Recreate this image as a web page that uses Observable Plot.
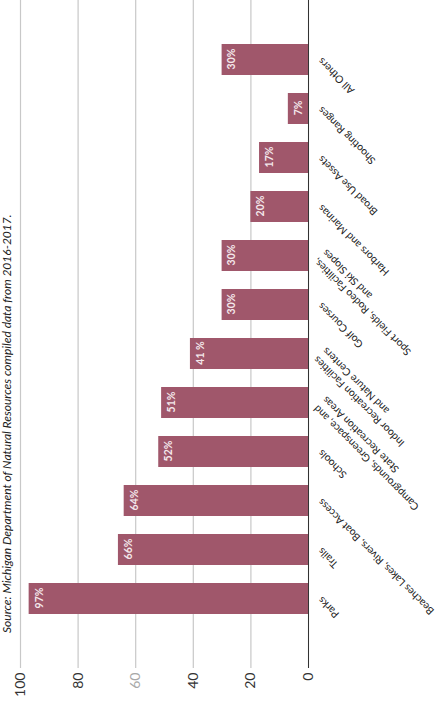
<!DOCTYPE html>
<html>
<head>
<meta charset="utf-8">
<script src="https://cdn.jsdelivr.net/npm/d3@7"></script>
<script src="https://cdn.jsdelivr.net/npm/@observablehq/plot@0.6"></script>
<style>
  html, body { margin: 0; padding: 0; background: #fff; overflow: hidden; width: 438px; height: 701px; }
  #rot { position: absolute; left: 0; top: 701px; width: 701px; height: 438px;
         transform-origin: 0 0; transform: rotate(-90deg); background: #fff; }
  #src { height: 14px; line-height: 13px; font-family: Lato, sans-serif; font-style: italic;
         font-size: 12px; color: #222; padding-left: 68px; white-space: nowrap; }
</style>
</head>
<body>
<div id="rot">
  <div id="src"></div>
  <div id="chart"></div>
</div>
<script>
const sourceText = "Source: Michigan Department of Natural Resources compiled data from 2016-2017.";
const categories = [
  "Parks",
  "Trails",
  "Beaches Lakes, Rivers, Boat Access",
  "Schools",
  "Campgrounds, Greenspace, and\nState Recreation Areas",
  "Indoor Recreation Facilities\nand Nature Centers",
  "Golf Courses",
  "Sport Fields, Rodeo Facilities,\nand Ski Slopes",
  "Harbors and Marinas",
  "Broad Use Assets",
  "Shooting Ranges",
  "All Others"
];
const values = [97, 66, 64, 52, 51, 41, 30, 30, 20, 17, 7, 30];
const valueLabels = ["97%", "66%", "64%", "52%", "51%", "41 %", "30%", "30%", "20%", "17%", "7%", "30%"];
const yTicks = [0, 20, 40, 60, 80, 100];

const data = categories.map((c, i) => ({category: c, value: values[i], label: valueLabels[i]}));

document.getElementById("src").textContent = sourceText;

const chart = Plot.plot({
  width: 701,
  height: 424,
  marginLeft: 33,
  marginRight: 0,
  marginTop: 6,
  marginBottom: 130,
  style: {fontFamily: "Lato, sans-serif", background: "transparent", overflow: "visible"},
  x: {domain: categories, range: [65, 679], padding: 0.375, axis: null},
  y: {domain: [0, 100]},
  marks: [
    Plot.gridY(yTicks, {stroke: "#c8c8c8", strokeOpacity: 1, strokeWidth: 1.2}),
    Plot.axisY({ticks: yTicks, tickSize: 0, tickPadding: 5, line: true, stroke: "#cfcfcf",
                fill: (d) => d === 60 ? "#a8a8a8" : "#333", fontSize: 14, label: null}),
    Plot.barY(data, {x: "category", y: "value", fill: "#a0576b"}),
    Plot.ruleY([0], {stroke: "#333", strokeWidth: 1}),
    Plot.text(data, {x: "category", y: "value", text: "label", dy: 10, fill: "#f4e8ec",
                     fontWeight: "bold", fontSize: 10.5}),
    Plot.text(data, {x: "category", y: () => 0, text: "category", dy: 11, dx: -1, rotate: -45,
                     textAnchor: "end", lineAnchor: "middle", fontSize: 10.4, fill: "#222",
                     lineHeight: 1.2})
  ]
});
document.getElementById("chart").appendChild(chart);
</script>
</body>
</html>
